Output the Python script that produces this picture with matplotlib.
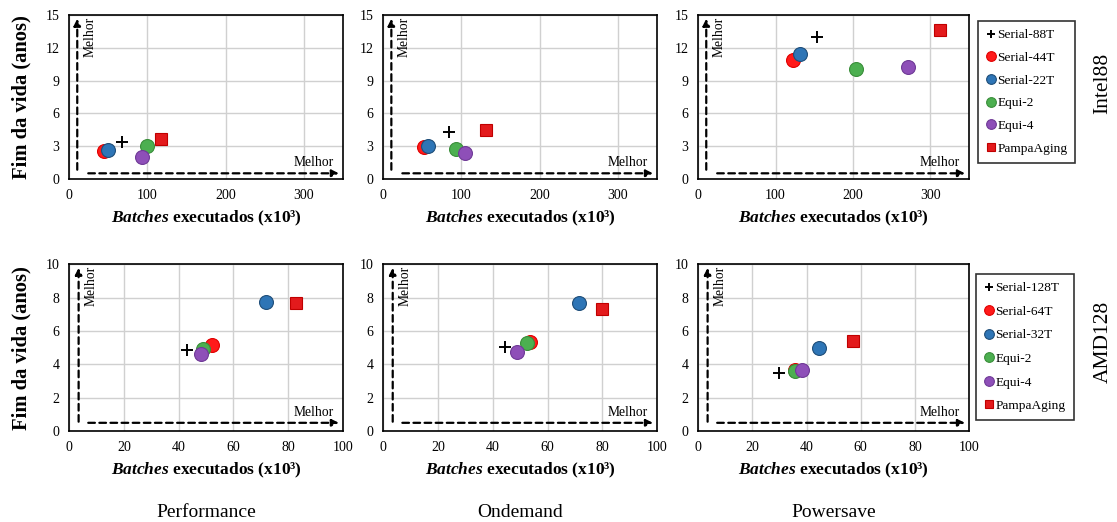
import matplotlib.pyplot as plt

plt.rcParams['font.family'] = ['Liberation Serif', 'DejaVu Serif']
plt.rcParams['mathtext.fontset'] = 'custom'
plt.rcParams['mathtext.bfit'] = 'Liberation Serif:italic:bold'
plt.rcParams['mathtext.rm'] = 'Liberation Serif'

politicas = ['Performance', 'Ondemand', 'Powersave']
maquinas = ['Intel88', 'AMD128']

series_intel = ['Serial-88T', 'Serial-44T', 'Serial-22T', 'Equi-2', 'Equi-4', 'PampaAging']
series_amd = ['Serial-128T', 'Serial-64T', 'Serial-32T', 'Equi-2', 'Equi-4', 'PampaAging']

# batches (x10^3) e fim da vida (anos), por politica
intel_x = {
    'Performance': [68, 45, 50, 100, 93, 117],
    'Ondemand': [84, 52, 57, 93, 105, 132],
    'Powersave': [153, 123, 132, 204, 271, 312],
}
intel_y = {
    'Performance': [3.4, 2.55, 2.7, 3.0, 2.0, 3.65],
    'Ondemand': [4.3, 2.9, 3.0, 2.75, 2.35, 4.5],
    'Powersave': [13.0, 10.9, 11.45, 10.05, 10.25, 13.65],
}
amd_x = {
    'Performance': [43, 52, 72, 48.8, 48.3, 82.8],
    'Ondemand': [44.6, 53.7, 71.6, 52.6, 48.8, 79.7],
    'Powersave': [29.7, 35.6, 44.5, 35.7, 38.3, 57.2],
}
amd_y = {
    'Performance': [4.88, 5.18, 7.74, 4.94, 4.6, 7.66],
    'Ondemand': [5.05, 5.34, 7.68, 5.3, 4.76, 7.32],
    'Powersave': [3.5, 3.68, 4.95, 3.63, 3.66, 5.4],
}

estilos = [
    dict(marker='+', color='black', markersize=9, markeredgewidth=1.4, linestyle='none'),
    dict(marker='o', color='#FF1A1A', markeredgecolor='#E00000', markersize=10, markeredgewidth=0.8, linestyle='none'),
    dict(marker='o', color='#2E75B6', markeredgecolor='#1F4E79', markersize=10, markeredgewidth=0.8, linestyle='none'),
    dict(marker='o', color='#4CAF50', markeredgecolor='#3A8E3A', markersize=10, markeredgewidth=0.8, linestyle='none'),
    dict(marker='o', color='#8E4FB8', markeredgecolor='#6F3A96', markersize=10, markeredgewidth=0.8, linestyle='none'),
    dict(marker='s', color='#E31A1C', markeredgecolor='#C00000', markersize=9, markeredgewidth=0.8, linestyle='none'),
]

fig = plt.figure(figsize=(11.17, 5.22), dpi=100)

lefts = [0.0618, 0.343, 0.625]
widths = [0.2453, 0.2453, 0.2426]
linhas = [
    dict(bottom=0.657, height=0.314, xs=intel_x, ys=intel_y, nomes=series_intel,
         xlim=350, xticks=[0, 100, 200, 300], ylim=15, yticks=[0, 3, 6, 9, 12, 15],
         vx=0.03, hy=0.035, legpos=(0.8755, 0.96), lsp=0.78),
    dict(bottom=0.174, height=0.320, xs=amd_x, ys=amd_y, nomes=series_amd,
         xlim=100, xticks=[0, 20, 40, 60, 80, 100], ylim=10, yticks=[0, 2, 4, 6, 8, 10],
         vx=0.035, hy=0.05, legpos=(0.874, 0.475), lsp=0.84),
]

xlabel = r'$\mathbfit{Batches}$ executados (x10³)'

for r, cfg in enumerate(linhas):
    for c, pol in enumerate(politicas):
        ax = fig.add_axes([lefts[c], cfg['bottom'], widths[c], cfg['height']])
        for i, nome in enumerate(cfg['nomes']):
            ax.plot(cfg['xs'][pol][i], cfg['ys'][pol][i], label=nome, zorder=3, **estilos[i])
        ax.set_xlim(0, cfg['xlim'])
        ax.set_ylim(0, cfg['ylim'])
        ax.set_xticks(cfg['xticks'])
        ax.set_yticks(cfg['yticks'])
        ax.grid(True, color='#d0d0d0', linewidth=1.0)
        ax.set_axisbelow(True)
        ax.tick_params(length=0, labelsize=10, pad=7)
        for s in ax.spines.values():
            s.set_linewidth(1.2)
        ax.set_xlabel(xlabel, fontsize=12.5, fontweight='bold', labelpad=5)
        if c == 0:
            ax.set_ylabel('Fim da vida (anos)', fontsize=14.8, fontweight='bold', labelpad=10)

        # setas "Melhor"
        ax.annotate('', xy=(cfg['vx'], 0.995), xytext=(cfg['vx'], 0.04), xycoords='axes fraction',
                    arrowprops=dict(arrowstyle='-|>', linestyle=(0, (3, 2)), lw=1.6, color='black',
                                    mutation_scale=10))
        ax.annotate('', xy=(0.995, cfg['hy']), xytext=(0.06, cfg['hy']), xycoords='axes fraction',
                    arrowprops=dict(arrowstyle='-|>', linestyle=(0, (3, 2)), lw=1.6, color='black',
                                    mutation_scale=10))
        ax.text(cfg['vx'] + 0.022, 0.99, 'Melhor', rotation=90, transform=ax.transAxes,
                ha='left', va='top', fontsize=9.8)
        ax.text(0.965, cfg['hy'] + 0.025, 'Melhor', transform=ax.transAxes,
                ha='right', va='bottom', fontsize=9.8)

        if c == 2:
            leg = ax.legend(loc='upper left', bbox_to_anchor=cfg['legpos'],
                            bbox_transform=fig.transFigure, fontsize=9.6, frameon=True,
                            fancybox=False, edgecolor='black', labelspacing=cfg['lsp'],
                            handlelength=0.7, handletextpad=0.15, borderpad=0.6,
                            borderaxespad=0, markerscale=0.7)
            leg.get_frame().set_linewidth(1.2)

fig.text(0.9875, 0.84, maquinas[0], rotation=90, ha='center', va='center', fontsize=15.5)
fig.text(0.9875, 0.345, maquinas[1], rotation=90, ha='center', va='center', fontsize=15.5)

for c, pol in enumerate(politicas):
    fig.text(lefts[c] + widths[c] / 2 + 0.0, 0.019, pol, ha='center', va='center', fontsize=14)

fig.savefig('out.png', dpi=100)
